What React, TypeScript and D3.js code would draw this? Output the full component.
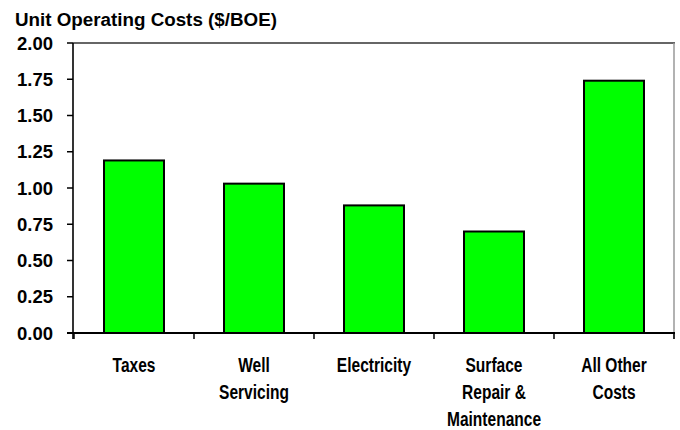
import React from "react";
import * as d3 from "d3";

const title = "Unit Operating Costs ($/BOE)";
const categories = ["Taxes", "Well Servicing", "Electricity", "Surface Repair & Maintenance", "All Other Costs"];
const categoryLines = [["Taxes"], ["Well", "Servicing"], ["Electricity"], ["Surface", "Repair &", "Maintenance"], ["All Other", "Costs"]];
const values = [1.19, 1.03, 0.88, 0.7, 1.74];
const yTicks = [0, 0.25, 0.5, 0.75, 1.0, 1.25, 1.5, 1.75, 2.0];

const W = 680;
const H = 430;
const left = 74;
const right = 674;
const top = 43;
const bottom = 333;
const FONT = "'Liberation Sans', Arial, Helvetica, sans-serif";

export default function App() {
  const x = d3.scaleBand<string>().domain(categories).range([left, right]).paddingInner(0.5).paddingOuter(0.25);
  const y = d3.scaleLinear().domain([0, 2]).range([bottom, top]);
  const step = x.step();
  const boundaries = d3.range(categories.length + 1).map((i) => left + i * step);

  return (
    <svg width={W} height={H} style={{ position: "absolute", left: 0, top: 0, background: "#fff" }}>
      <text x={15} y={25.5} fontFamily={FONT} fontWeight="bold" fontSize={18.8} fill="#000">
        {title}
      </text>
      {/* frame */}
      <line x1={left - 1} x2={right + 1} y1={top} y2={top} stroke="#333" strokeWidth={1.6} />
      <line x1={right} x2={right} y1={top} y2={bottom + 6} stroke="#999" strokeWidth={1.5} />
      {/* bars */}
      {categories.map((c, i) => (
        <rect
          key={c}
          x={x(c)}
          y={y(values[i])}
          width={x.bandwidth()}
          height={y(0) - y(values[i])}
          fill="#00ff00"
          stroke="#000"
          strokeWidth={2}
        />
      ))}
      {/* y axis */}
      <line x1={left - 1} x2={left - 1} y1={top} y2={bottom + 6} stroke="#000" strokeWidth={1.6} />
      {yTicks.map((t) => (
        <g key={t}>
          <line x1={left - 7} x2={left - 1} y1={y(t)} y2={y(t)} stroke="#000" strokeWidth={1.5} />
          <text
            x={53}
            y={y(t)}
            dy="0.36em"
            textAnchor="end"
            fontFamily={FONT}
            fontWeight="bold"
            fontSize={18.5}
            fill="#000"
          >
            {d3.format(".2f")(t)}
          </text>
        </g>
      ))}
      {/* x axis */}
      <line x1={left - 7} x2={right + 1} y1={bottom} y2={bottom} stroke="#000" strokeWidth={2} />
      {boundaries.map((b, i) => (
        <line key={i} x1={b} x2={b} y1={bottom} y2={bottom + 6} stroke="#000" strokeWidth={1.5} />
      ))}
      {categories.map((c, i) => {
        const cx = (x(c) as number) + x.bandwidth() / 2;
        return (
          <g key={c} transform={`translate(${cx},0) scale(0.74,1)`}>
            {categoryLines[i].map((line, j) => (
              <text
                key={j}
                x={0}
                y={372 + j * 27}
                textAnchor="middle"
                fontFamily={FONT}
                fontWeight="bold"
                fontSize={21}
                fill="#000"
              >
                {line}
              </text>
            ))}
          </g>
        );
      })}
    </svg>
  );
}
